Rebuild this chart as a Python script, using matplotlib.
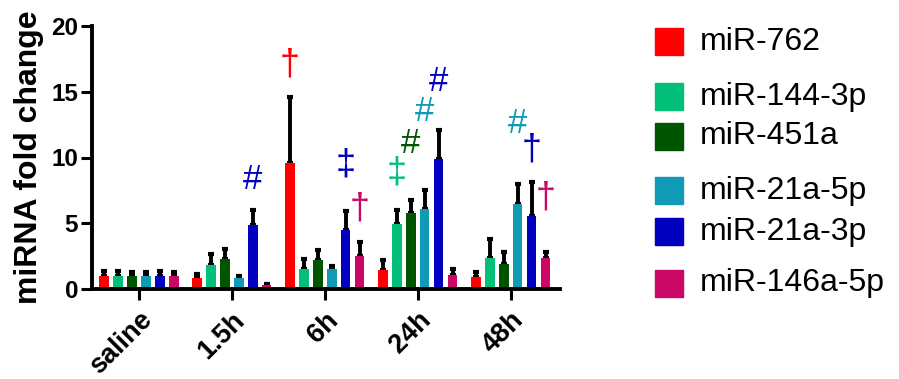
import matplotlib
matplotlib.use("Agg")
import matplotlib.pyplot as plt
from matplotlib.patches import Rectangle
import numpy as np

plt.rcParams['font.family'] = ['Liberation Sans', 'DejaVu Sans']

# Data
groups = ['saline', '1.5h', '6h', '24h', '48h']
series = ['miR-762', 'miR-144-3p', 'miR-451a', 'miR-21a-5p', 'miR-21a-3p', 'miR-146a-5p']
colors = ['#FF0000', '#02C07A', '#005600', '#119AB5', '#0000BE', '#CC0866']

# mean fold change, rows = series, cols = groups
means = [
    [1.0, 0.85, 9.55, 1.45, 0.95],   # miR-762
    [1.0, 1.85, 1.50, 4.95, 2.35],   # miR-144-3p
    [1.0, 2.25, 2.20, 5.80, 1.90],   # miR-451a
    [1.0, 0.85, 1.50, 6.05, 6.50],   # miR-21a-5p
    [1.0, 4.85, 4.50, 9.85, 5.55],   # miR-21a-3p
    [1.0, 0.30, 2.50, 1.10, 2.35],   # miR-146a-5p
]
# upper error (SEM)
errors = [
    [0.35, 0.30, 5.05, 0.75, 0.35],
    [0.35, 0.80, 0.80, 1.05, 1.45],
    [0.30, 0.80, 0.75, 1.00, 0.90],
    [0.30, 0.12, 0.28, 1.50, 1.45],
    [0.35, 1.15, 1.45, 2.25, 2.55],
    [0.30, 0.05, 1.10, 0.40, 0.45],
]

# significance marks: (group, series index, symbol, y position)
marks = [
    (1, 4, '#', 8.3),
    (2, 0, '\u2020', 17.0),
    (2, 4, '\u2021', 9.4),
    (2, 5, '\u2020', 6.1),
    (3, 1, '\u2021', 8.8),
    (3, 2, '#', 11.1),
    (3, 3, '#', 13.5),
    (3, 4, '#', 15.8),
    (4, 3, '#', 12.6),
    (4, 4, '\u2020', 10.6),
    (4, 5, '\u2020', 6.9),
]

# legend rows (figure y of each entry, in pixels from top)
legend_y = [41.7, 96.7, 136, 190.7, 231.7, 283.3]

W, H = 899, 379
fig = plt.figure(figsize=(W / 100, H / 100), dpi=100)
ax = fig.add_axes([92 / W, 1 - 289 / H, (560 - 92) / W, (289 - 26) / H])

x = np.arange(len(groups))
step = 0.15
width = 0.102
for i, name in enumerate(series):
    xs = x + (i - 2.5) * step
    ax.errorbar(xs, means[i], yerr=[np.zeros(len(groups)), errors[i]],
                fmt='none', ecolor='black', elinewidth=2.8, capsize=2.2,
                capthick=3, zorder=1)
    ax.bar(xs, means[i], width=width, color=colors[i], zorder=2)

for g, s, sym, yv in marks:
    ax.text(x[g] + (s - 2.5) * step, yv, sym, color=colors[s],
            fontsize=25 if sym == '#' else 26, ha='center', va='center')

ax.set_xlim(-0.505, 4.53)
ax.set_ylim(0, 20)
ax.set_yticks([0, 5, 10, 15, 20])
ax.set_xticks(x)
ax.set_xticklabels(groups, rotation=45, ha='right', rotation_mode='anchor',
                   fontsize=19.5, fontweight='bold')
ax.set_yticklabels(['0', '5', '10', '15', '20'], fontsize=17.5, fontweight='bold')
ax.set_ylabel('miRNA fold change', fontsize=23, fontweight='bold', labelpad=5)

for sp in ['top', 'right']:
    ax.spines[sp].set_visible(False)
for sp in ['left', 'bottom']:
    ax.spines[sp].set_linewidth(2.8)
ax.tick_params(axis='both', width=2.2, length=8, direction='out')
ax.tick_params(axis='y', pad=2)
ax.tick_params(axis='x', pad=5)

# legend drawn by hand to keep the grouped spacing
for name, c, yp in zip(series, colors, legend_y):
    fig.add_artist(Rectangle((655 / W, 1 - (yp + 13.5) / H), 27.5 / W, 27 / H,
                             transform=fig.transFigure, color=c))
    fig.text(700 / W, 1 - yp / H, name, fontsize=23, va='center', ha='left')

fig.savefig('out.png', dpi=100)
